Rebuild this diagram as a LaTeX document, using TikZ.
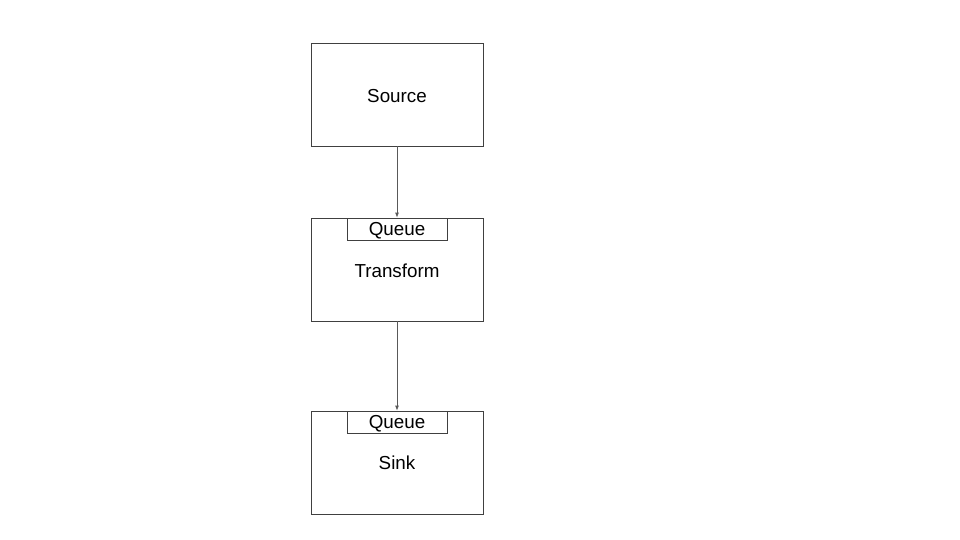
\documentclass[tikz,border=0pt]{standalone}
\usepackage{fontspec}
\setmainfont{Liberation Sans}
\usetikzlibrary{arrows.meta}
\begin{document}
\begin{tikzpicture}[x=1pt,y=-1pt]
	\tikzstyle{every node}+=[inner sep=0pt, font=\fontsize{18.8}{21}\selectfont]
	\tikzstyle{stage}=[draw=black!75, line width=0.8pt, minimum width=172pt, minimum height=103pt]
	\tikzstyle{queue}=[draw=black!75, line width=0.8pt, minimum width=100pt, minimum height=22pt]
	\tikzstyle{link}=[draw=black!65, line width=0.8pt, -{Latex[length=5pt,width=4pt]}]
	\useasboundingbox (0,0) rectangle (960,540);
	\node [stage] (source) at (397,94.5) {};
	\draw (397,96) node {Source};
	\node [stage] (transform) at (397,269.5) {};
	\node [queue, anchor=north] (tq) at (transform.north) {};
	\draw (397,231) node {Queue};
	\draw (397,271) node {Transform};
	\node [stage] (sink) at (397,462.5) {};
	\node [queue, anchor=north] (sq) at (sink.north) {};
	\draw (397,423.5) node {Queue};
	\draw (397,463) node {Sink};
	\draw [link] (source) -- (transform);
	\draw [link] (transform) -- (sink);
\end{tikzpicture}
\end{document}
